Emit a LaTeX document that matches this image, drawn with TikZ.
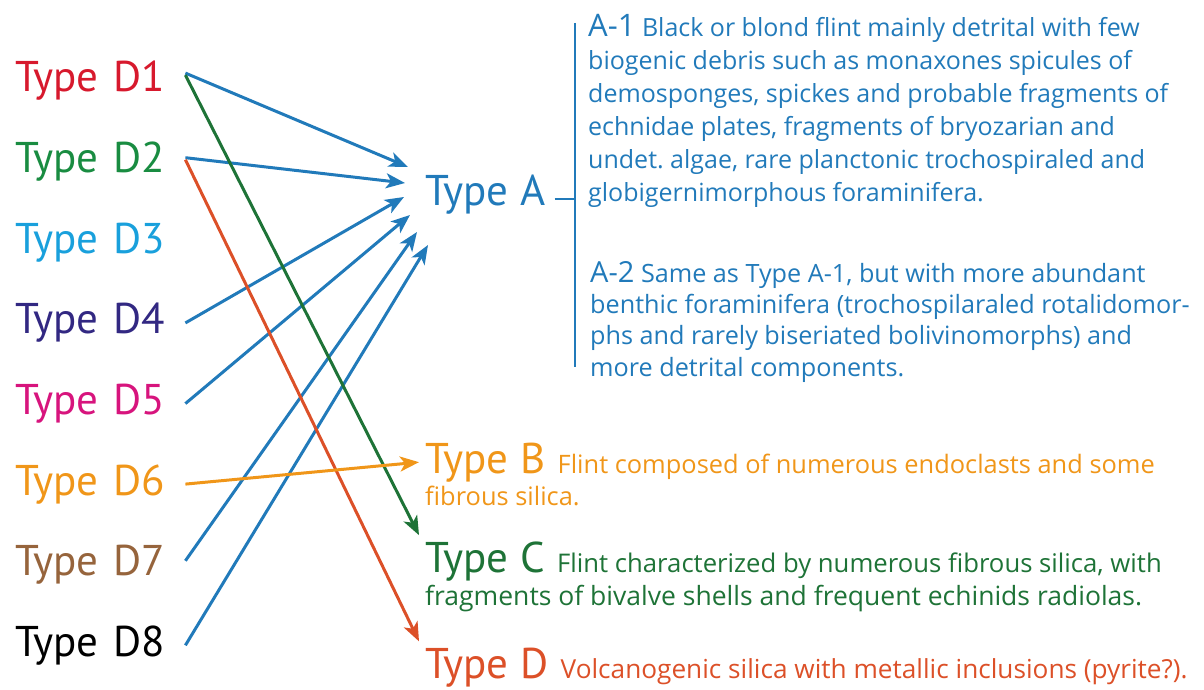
\documentclass[tikz,border=0pt]{standalone}
\usepackage{fontspec}
\setmainfont{PT Sans}
\newfontfamily\bodyfont{Open Sans}
\frenchspacing
\usetikzlibrary{arrows.meta,positioning}
\definecolor{typeblue}{RGB}{33,122,186}
\definecolor{dred}{RGB}{215,25,45}
\definecolor{dgreen}{RGB}{25,140,65}
\definecolor{dcyan}{RGB}{25,160,220}
\definecolor{dindigo}{RGB}{50,40,130}
\definecolor{dmagenta}{RGB}{215,20,125}
\definecolor{dorange}{RGB}{240,150,25}
\definecolor{dbrown}{RGB}{150,100,60}
\definecolor{cgreen}{RGB}{30,115,55}
\definecolor{volc}{RGB}{220,80,40}
\tikzset{
  >={Stealth[length=19pt,width=15pt,inset=5pt]},
  dlbl/.style={text=#1,font=\fontsize{43}{50}\selectfont,inner sep=6pt,
    anchor=base west,text width=164pt,align=left},
  lbl/.style={text=#1,font=\fontsize{43}{50}\selectfont,inner sep=6pt,anchor=base west},
  body/.style={text=#1,font=\bodyfont\fontsize{26.5}{33}\selectfont,inner sep=0pt,anchor=base west,align=left},
  body/.default=typeblue,
  flow/.style={->,line width=3pt,draw=#1},
  flow/.default=typeblue,
}
\newcommand{\sub}[1]{{\fontsize{31}{31}\selectfont #1}}

\begin{document}
\begin{tikzpicture}[x=1pt,y=-1pt]
  \useasboundingbox (0,0) rectangle (1204,690);
  % deposit types on the left
  \foreach \i/\c in {1/dred,2/dgreen,3/dcyan,4/dindigo,5/dmagenta,6/dorange,7/dbrown,8/black}
    \node[dlbl=\c] (d\i) at (9,{92+80.6*(\i-1)}) {Type D\i};

  % flint types on the right
  \node[lbl=typeblue] (ta) at (419,205) {Type A};
  \node[lbl=dorange] (tb) at (419,473) {Type B};
  \node[lbl=cgreen] (tc) at (419,572) {Type C};
  \node[lbl=volc] (td) at (419,678) {Type D};

  \coordinate (bartop) at (575,23);
  \coordinate (barbot) at (575,367);
  \draw[typeblue,line width=1.5pt] (bartop) -- (barbot);
  \draw[typeblue,line width=1.5pt] ([xshift=3,yshift=-5]ta.east) -- ([yshift=-5]ta.east -| bartop);

  % last line of each block sits on the given baseline
  \node[body,font=\bodyfont\fontsize{25}{33}\selectfont] (a1txt) at (588,201) {\sub{A-1} Black or blond flint mainly detrital with few\\
    biogenic debris such as monaxones spicules of\\
    demosponges, spickes and probable fragments of\\
    echnidae plates, fragments of bryozarian and\\
    undet. algae, rare planctonic trochospiraled and\\
    globigernimorphous foraminifera.};
  \node[body,font=\bodyfont\fontsize{25.2}{31.3}\selectfont] (a2txt) at (590,376) {{\fontsize{29}{29}\selectfont A-2} Same as Type A-1, but with more abundant\\
    benthic foraminifera (trochospilaraled rotalidomor-\\
    phs and rarely biseriated bolivinomorphs) and\\
    more detrital components.};

  \node[body=dorange,font=\bodyfont\fontsize{25.4}{33}\selectfont] (btxt) at ([xshift=6]tb.base east) {Flint composed of numerous endoclasts and some};
  \node[body=dorange,font=\bodyfont\fontsize{25.4}{33}\selectfont] (btxt2) at (425,505) {fibrous silica.};
  \node[body=cgreen,font=\bodyfont\fontsize{25.7}{33}\selectfont] (ctxt) at ([xshift=6]tc.base east) {Flint characterized by numerous fibrous silica, with};
  \node[body=cgreen] (ctxt2) at (425,605) {fragments of bivalve shells and frequent echinids radiolas.};
  \node[body=volc,font=\bodyfont\fontsize{26.2}{33}\selectfont] (dtxt) at ([xshift=6]td.base east) {Volcanogenic silica with metallic inclusions (pyrite?).};

  % arrow tips around Type A
  \coordinate (a1) at (408,167);
  \coordinate (a2) at (405,183);
  \coordinate (a3) at (404,197);
  \coordinate (a4) at (410,215);
  \coordinate (a5) at (417,232);
  \coordinate (a6) at (428,245);

  \draw[flow] ([yshift=8]d1.east) -- (a1);
  \draw[flow] ([yshift=4]d2.east) -- (a2);
  \draw[flow] (d4.east) -- (a3);
  \draw[flow] (d5.east) -- (a4);
  \draw[flow] ([yshift=4]d7.east) -- (a5);
  \draw[flow] (d8.east) -- (a6);
  \draw[flow=cgreen] ([yshift=6]d1.east) -- (tc.north west);
  \draw[flow=volc] ([yshift=2]d2.east) -- (td.north west);
  \draw[flow=dorange] (d6.east) -- (tb.west);
\end{tikzpicture}
\end{document}
